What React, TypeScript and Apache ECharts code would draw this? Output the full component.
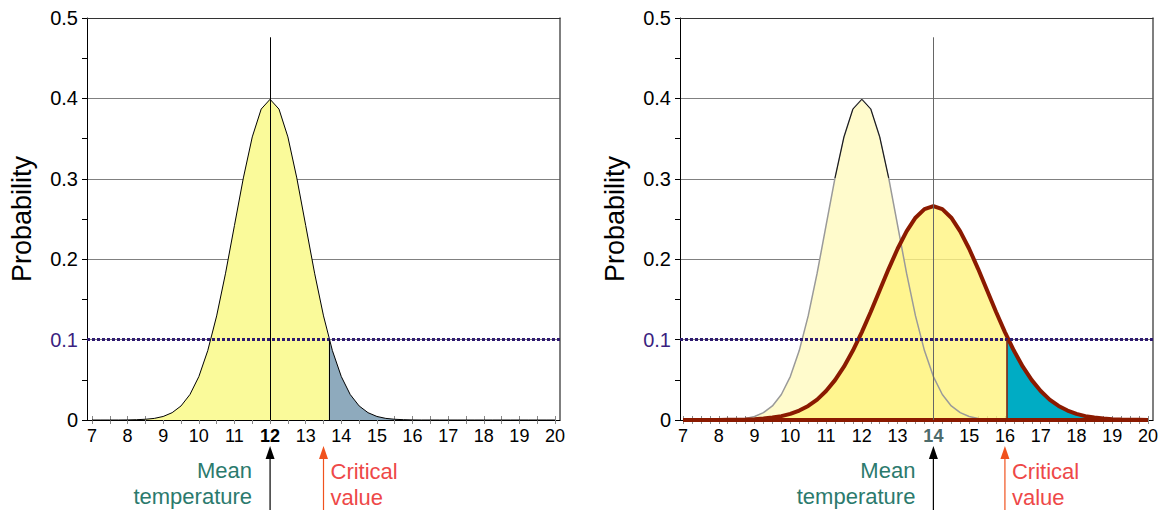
import React, { useEffect, useRef } from "react";
import * as echarts from "echarts";

// temperature grid (°C) at which the probability curves are read
const tempGrid = [
  7, 7.25, 7.5, 7.75, 8, 8.25, 8.5, 8.75, 9, 9.25, 9.5, 9.75, 10, 10.25, 10.5, 10.75,
  11, 11.25, 11.5, 11.75, 12, 12.25, 12.5, 12.75, 13, 13.25, 13.5, 13.75, 14, 14.25,
  14.5, 14.75, 15, 15.25, 15.5, 15.75, 16, 16.25, 16.5, 16.75, 17, 17.25, 17.5, 17.75,
  18, 18.25, 18.5, 18.75, 19, 19.25, 19.5, 19.75, 20,
];
// present climate: mean 12
const baselineProb = [
  0, 0, 0, 0, 0.0001, 0.0004, 0.0009, 0.002, 0.0044, 0.0091, 0.0175, 0.0317, 0.054, 0.0863,
  0.1295, 0.1826, 0.242, 0.3011, 0.3521, 0.3867, 0.3989, 0.3867, 0.3521, 0.3011, 0.242,
  0.1826, 0.1295, 0.0863, 0.054, 0.0317, 0.0175, 0.0091, 0.0044, 0.002, 0.0009, 0.0004,
  0.0001, 0, 0, 0, 0, 0, 0, 0, 0, 0, 0, 0, 0, 0, 0, 0, 0,
];
// warmer climate: mean 14, wider spread
const warmedProb = [
  0, 0, 0, 0, 0.0001, 0.0002, 0.0003, 0.0006, 0.001, 0.0018, 0.003, 0.0048, 0.0076, 0.0117,
  0.0175, 0.0254, 0.036, 0.0496, 0.0663, 0.0864, 0.1093, 0.1347, 0.1613, 0.188, 0.213,
  0.2347, 0.2516, 0.2623, 0.266, 0.2623, 0.2516, 0.2347, 0.213, 0.188, 0.1613, 0.1347,
  0.1093, 0.0864, 0.0663, 0.0496, 0.036, 0.0254, 0.0175, 0.0117, 0.0076, 0.0048, 0.003,
  0.0018, 0.001, 0.0006, 0.0003, 0.0002, 0.0001,
];
const meanTemps = [12, 14];
const criticalTemps = [13.65, 16.05];
const criticalArrowTemps = [13.5, 16.0];
const criticalProb = 0.1;
const meanLineTop = 0.476;
const yTicks = [0, 0.1, 0.2, 0.3, 0.4, 0.5];
const xRange = [7, 20];
const meanLabel = "Mean\ntemperature";
const criticalLabel = "Critical\nvalue";

const FONT = "'Liberation Sans', Arial, Helvetica, sans-serif";

function pairs(ys: number[]) {
  return tempGrid.map((x, i) => [x, ys[i]]);
}
function below(ys: number[], c: number) {
  return pairs(ys).filter((p) => p[0] < c).concat([[c, criticalProb]]);
}
function above(ys: number[], c: number) {
  return [[c, criticalProb]].concat(pairs(ys).filter((p) => p[0] > c));
}

function frameAxes(grid: number) {
  const x = [
    {
      gridIndex: grid, type: "value", min: 0, max: 1, position: "bottom",
      axisLine: { show: true, onZero: false, lineStyle: { color: "#000", width: 1 } },
      axisTick: { show: false }, axisLabel: { show: false }, splitLine: { show: false },
    },
    {
      gridIndex: grid, type: "value", min: 0, max: 1, position: "top",
      axisLine: { show: true, onZero: false, lineStyle: { color: "#333", width: 1 } },
      axisTick: { show: false }, axisLabel: { show: false }, splitLine: { show: false },
    },
  ];
  const y = [
    {
      gridIndex: grid, type: "value", min: yTicks[0], max: yTicks[yTicks.length - 1], interval: 0.1,
      position: "left",
      name: "Probability", nameLocation: "middle", nameGap: 52,
      nameTextStyle: { fontSize: 27, color: "#000", fontFamily: FONT },
      axisLine: { show: true, onZero: false, lineStyle: { color: "#000", width: 1 } },
      axisTick: { show: true, length: 5, lineStyle: { color: "#000" } },
      minorTick: { show: true, splitNumber: 2, length: 5, lineStyle: { color: "#000" } },
      axisLabel: {
        fontSize: 20, color: "#000", fontFamily: FONT, margin: 9,
        formatter: (v: number) => (v === 0 ? "0" : v === 0.1 ? "{p|0.1}" : v.toFixed(1)),
        rich: { p: { fontSize: 20, color: "#3b1f80", fontFamily: FONT } },
      },
      splitLine: { show: true, lineStyle: { color: "#808080", width: 1 } },
    },
    {
      gridIndex: grid, type: "value", min: 0, max: 0.5, position: "right",
      axisLine: { show: true, onZero: false, lineStyle: { color: "#555", width: 1.5 } },
      axisTick: { show: false }, axisLabel: { show: false }, splitLine: { show: false },
    },
    {
      gridIndex: grid, type: "value", min: 0, max: 0.5, interval: 0.1, position: "left",
      axisLine: { show: false },
      axisTick: { show: false },
      minorTick: { show: true, splitNumber: 2, length: 5, lineStyle: { color: "#000" } },
      axisLabel: { show: false }, splitLine: { show: false },
    },
  ];
  return { x, y };
}

function dataAxes(grid: number, minorSplit: number, boldVal: number, boldColor: string) {
  const base = {
    gridIndex: grid, type: "value", min: xRange[0], max: xRange[1], interval: 1, position: "bottom",
    axisLine: { show: false }, splitLine: { show: false },
  };
  const x = [
    {
      ...base,
      axisTick: { show: true, length: 4, lineStyle: { color: "#888" } },
      minorTick: { show: true, splitNumber: minorSplit, length: 4, lineStyle: { color: "#888" } },
      axisLabel: {
        fontSize: 18, color: "#000", fontFamily: FONT, margin: 7,
        formatter: (v: number) => (v === boldVal ? "{b|" + v + "}" : String(v)),
        rich: { b: { fontSize: 18, fontWeight: "bold", color: boldColor, fontFamily: FONT } },
      },
    },
    {
      ...base,
      axisTick: { show: true, inside: true, length: 4, lineStyle: { color: "#888" } },
      minorTick: { show: true, splitNumber: minorSplit, length: 4, lineStyle: { color: "#888" } },
      axisLabel: { show: false },
    },
  ];
  const y = [
    {
      gridIndex: grid, type: "value", min: 0, max: 0.5, show: false,
    },
  ];
  return { x, y };
}

export default function App() {
  const ref = useRef<HTMLDivElement>(null);
  useEffect(() => {
    if (!ref.current) return;
    const chart = echarts.init(ref.current, null, { renderer: "svg" });

    const fL = frameAxes(0);
    const dL = dataAxes(1, 2, meanTemps[0], "#000");
    const fR = frameAxes(2);
    const dR = dataAxes(3, 4, meanTemps[1], "#4d6b6b");
    // xAxis indices: 0,1 frameL | 2,3 dataL | 4,5 frameR | 6,7 dataR
    // yAxis indices: 0,1,2 frameL | 3 dataL | 4,5,6 frameR | 7 dataR
    const xAxis = [...fL.x, ...dL.x, ...fR.x, ...dR.x];
    const yAxis = [...fL.y, ...dL.y, ...fR.y, ...dR.y];

    const noSym = { symbol: "none", showSymbol: false, silent: true };
    const vline = (x: number, y1: number, y2: number, color: string, width: number) => [
      { coord: [x, y1], lineStyle: { color, width, type: "solid" } },
      { coord: [x, y2] },
    ];
    const markLines = (data: any[]) => ({
      silent: true, symbol: ["none", "none"], label: { show: false },
      lineStyle: { type: "solid" }, data,
    });

    const series: any[] = [
      // ---------- left panel ----------
      {
        type: "line", xAxisIndex: 2, yAxisIndex: 3, ...noSym,
        data: below(baselineProb, criticalTemps[0]),
        lineStyle: { width: 0 }, areaStyle: { color: "#fafa9a", opacity: 1 },
      },
      {
        type: "line", xAxisIndex: 2, yAxisIndex: 3, ...noSym,
        data: above(baselineProb, criticalTemps[0]),
        lineStyle: { width: 0 }, areaStyle: { color: "#8eaabd", opacity: 1 },
      },
      {
        type: "line", xAxisIndex: 2, yAxisIndex: 3, ...noSym, clip: false,
        data: pairs(baselineProb),
        lineStyle: { color: "#000", width: 1 },
        markLine: markLines([
          vline(meanTemps[0], 0, meanLineTop, "#000", 1),
          vline(criticalTemps[0], 0, criticalProb, "#000", 1),
        ]),
      },
      {
        type: "line", xAxisIndex: 0, yAxisIndex: 0, ...noSym,
        data: [[0, criticalProb], [1, criticalProb]],
        lineStyle: { color: "#2e1a70", width: 3, type: [3, 2] },
      },
      // ---------- right panel ----------
      {
        type: "line", xAxisIndex: 6, yAxisIndex: 7, ...noSym,
        data: pairs(baselineProb),
        lineStyle: { color: "#9a9a9a", width: 1.5 }, areaStyle: { color: "#fffbcc", opacity: 1 },
      },
      {
        type: "line", xAxisIndex: 6, yAxisIndex: 7, ...noSym,
        data: below(warmedProb, criticalTemps[1]),
        lineStyle: { width: 0 }, areaStyle: { color: "#fff480", opacity: 0.8 },
      },
      {
        type: "line", xAxisIndex: 6, yAxisIndex: 7, ...noSym,
        data: above(warmedProb, criticalTemps[1]),
        lineStyle: { width: 0 }, areaStyle: { color: "#00acc4", opacity: 1 },
      },
      {
        type: "line", xAxisIndex: 6, yAxisIndex: 7, ...noSym,
        data: pairs(baselineProb).filter((p) => p[1] > 0.27),
        lineStyle: { color: "#111", width: 1 },
      },
      {
        type: "line", xAxisIndex: 6, yAxisIndex: 7, ...noSym, clip: false,
        data: [[xRange[0], 0], [xRange[1], 0]],
        lineStyle: { color: "#8b1a00", width: 4 },
        markLine: markLines([
          vline(meanTemps[1], 0, meanLineTop, "#666", 1),
          vline(criticalTemps[1], 0, criticalProb, "#8b1a00", 1.5),
        ]),
      },
      {
        type: "line", xAxisIndex: 6, yAxisIndex: 7, ...noSym, clip: false,
        data: pairs(warmedProb),
        lineStyle: { color: "#8b1a00", width: 4 },
      },
      {
        type: "line", xAxisIndex: 4, yAxisIndex: 4, ...noSym,
        data: [[0, criticalProb], [1, criticalProb]],
        lineStyle: { color: "#2e1a70", width: 3, type: [3, 2] },
      },
    ];

    chart.setOption({
      animation: false,
      grid: [
        { left: 87, top: 18, width: 473, height: 402 },
        { left: 92, top: 18, width: 463, height: 402 },
        { left: 680, top: 18, width: 473, height: 402 },
        { left: 683, top: 18, width: 465, height: 402 },
      ],
      xAxis,
      yAxis,
      series,
    });

    // annotations below the axes, placed through the axis scales
    const graphic: any[] = [];
    const panels = [
      { xi: 2, mean: meanTemps[0], crit: criticalArrowTemps[0] },
      { xi: 6, mean: meanTemps[1], crit: criticalArrowTemps[1] },
    ];
    const arrow = (x: number, color: string) => [
      { type: "line", shape: { x1: x, y1: 456, x2: x, y2: 512 }, style: { stroke: color, lineWidth: 1.2 } },
      { type: "polygon", shape: { points: [[x, 446], [x - 4.5, 459], [x + 4.5, 459]] }, style: { fill: color } },
    ];
    panels.forEach((p) => {
      const mx = chart.convertToPixel({ xAxisIndex: p.xi } as any, p.mean) as unknown as number;
      const cx = chart.convertToPixel({ xAxisIndex: p.xi } as any, p.crit) as unknown as number;
      graphic.push(...arrow(mx, "#000"), ...arrow(cx, "#f0521e"));
      const txt = (t: string, x: number, y: number, align: string, color: string) => ({
        type: "text",
        style: {
          text: t, x, y, align, verticalAlign: "middle", fill: color,
          fontSize: 22, lineHeight: 26, fontFamily: FONT,
        },
      });
      graphic.push(txt(meanLabel, mx - 18, 483, "right", "#2b7a6d"));
      graphic.push(txt(criticalLabel, cx + 7, 484, "left", "#ee4848"));
    });
    chart.setOption({ graphic });

    return () => chart.dispose();
  }, []);
  return (
    <div
      ref={ref}
      style={{ position: "absolute", left: 0, top: 0, width: 1164, height: 510, background: "#fff" }}
    />
  );
}
